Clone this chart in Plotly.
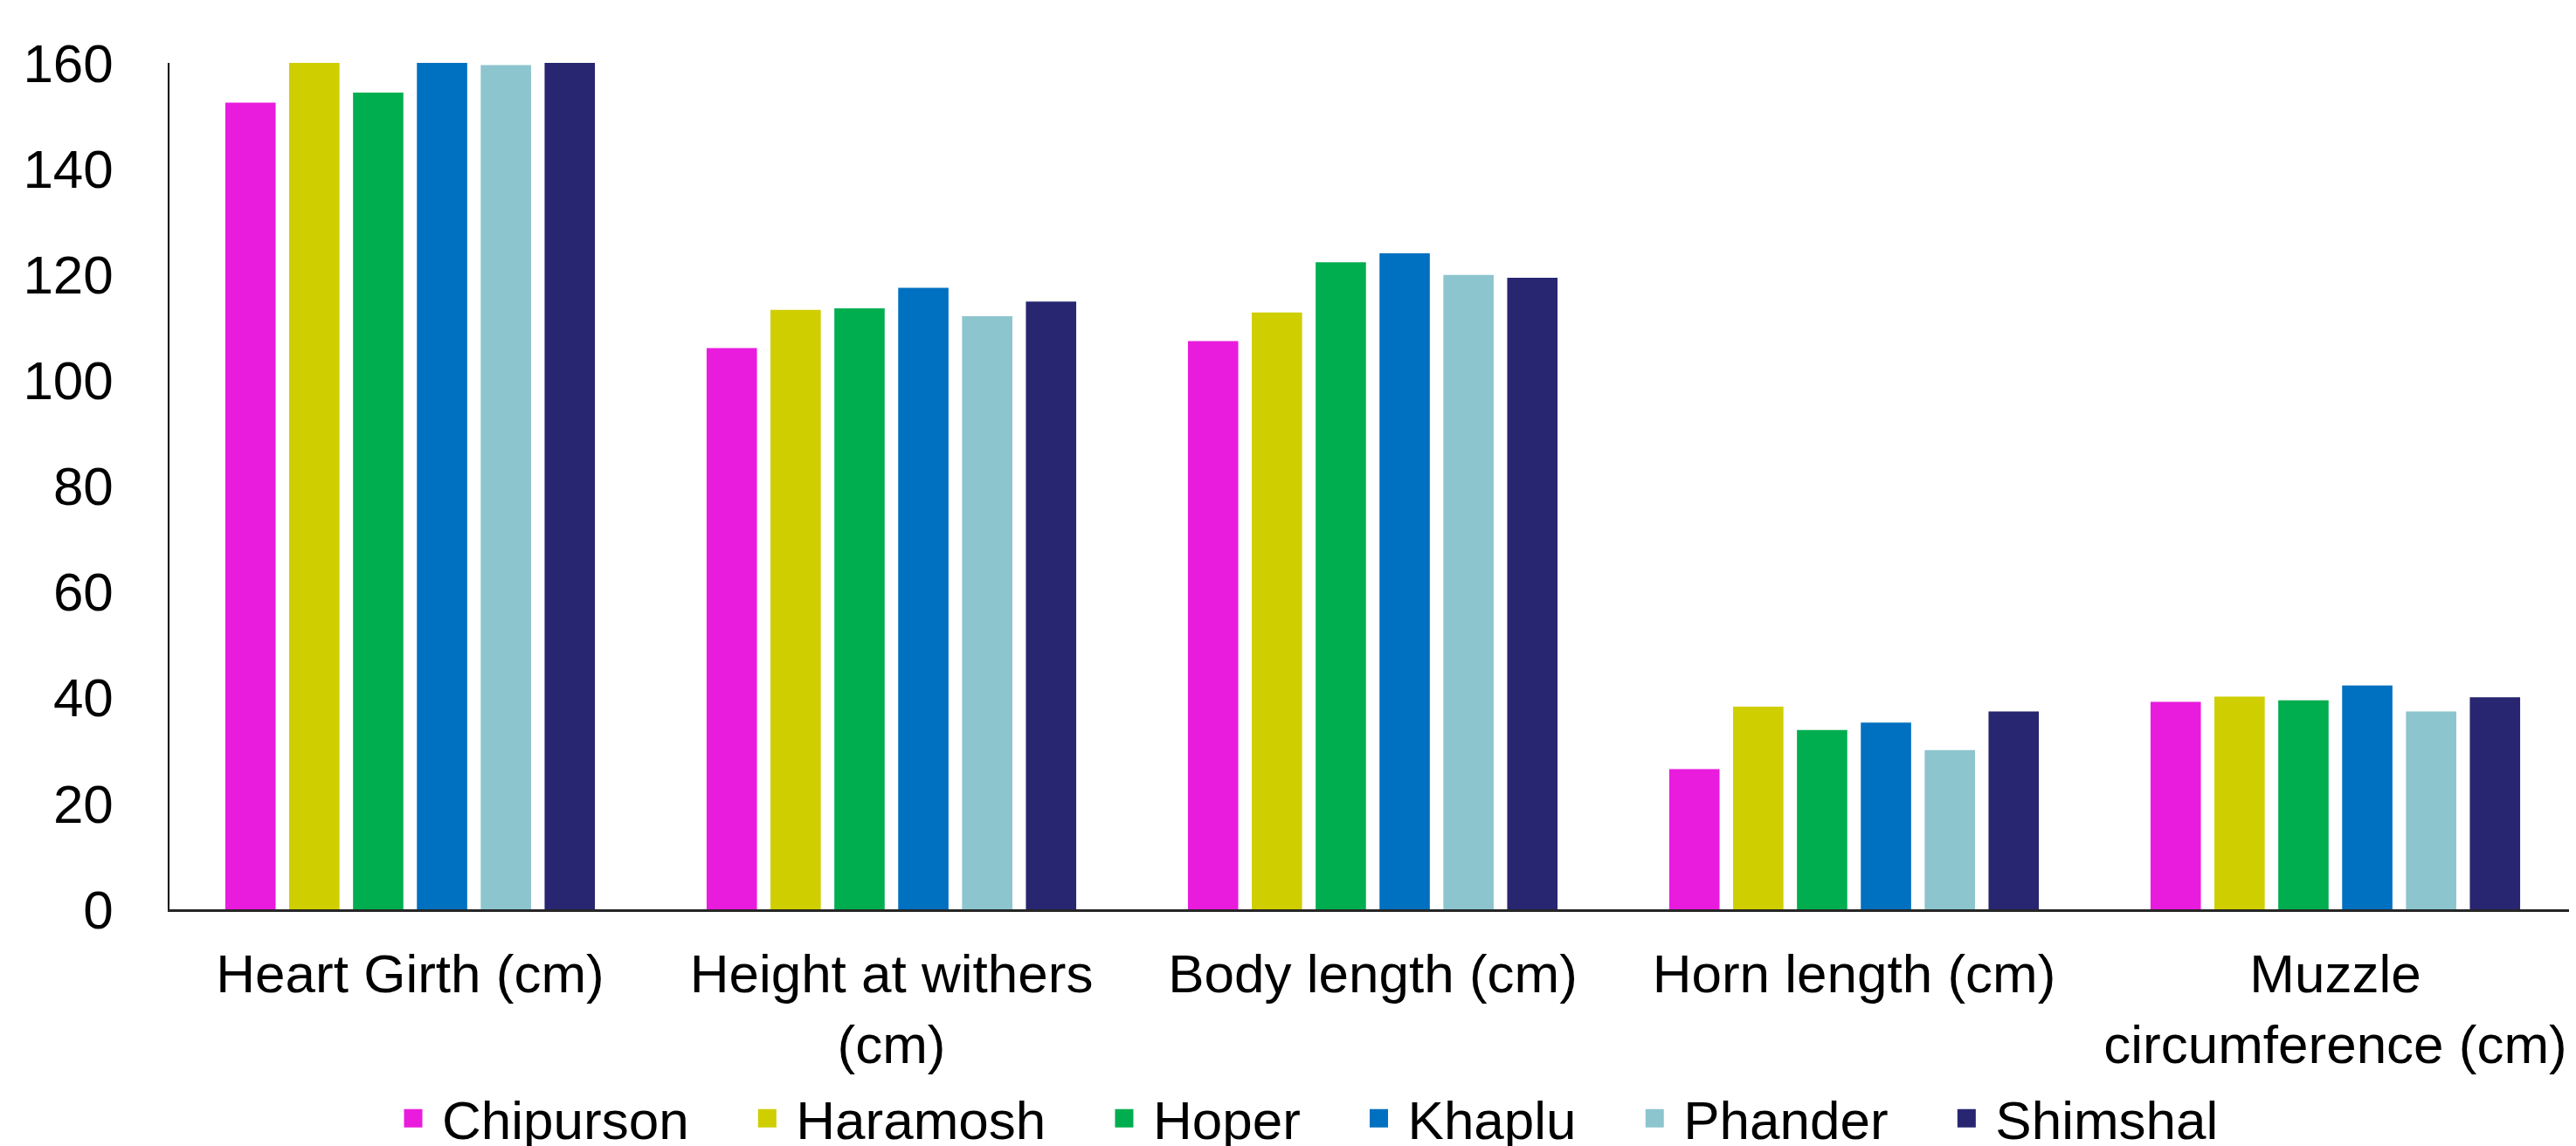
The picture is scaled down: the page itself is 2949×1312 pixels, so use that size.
import plotly.graph_objects as go

categories = ["Heart Girth (cm)", "Height at withers<br>(cm)", "Body length (cm)",
              "Horn length (cm)", "Muzzle<br>circumference (cm)"]
populations = ["Chipurson", "Haramosh", "Hoper", "Khaplu", "Phander", "Shimshal"]
chipurson = [152.5, 106.1, 107.4, 26.5, 39.2]
haramosh = [160.0, 113.3, 112.8, 38.3, 40.2]
hoper = [154.4, 113.6, 122.3, 33.9, 39.5]
khaplu = [160.0, 117.5, 124.0, 35.3, 42.3]
phander = [159.6, 112.1, 119.9, 30.1, 37.4]
shimshal = [160.0, 114.9, 119.4, 37.4, 40.1]
series = [chipurson, haramosh, hoper, khaplu, phander, shimshal]
colors = ["#E91CDE", "#CECE00", "#00AE4F", "#0070C0", "#8CC5CD", "#282671"]
y_ticks = [0, 20, 40, 60, 80, 100, 120, 140, 160]

FONT = "Liberation Sans, Arial, sans-serif"
PAD = "\u00a0" * 3

fig = go.Figure()
for name, vals, col in zip(populations, series, colors):
    fig.add_trace(go.Bar(x=categories, y=vals, name=name, marker_color=col,
                         marker_line_width=0, showlegend=False, legendgroup=name))
for name, col in zip(populations, colors):
    fig.add_trace(go.Scatter(x=[None], y=[None], mode="markers", name=name + PAD,
                             legendgroup=name,
                             marker=dict(symbol="square", size=16, color=col,
                                         line=dict(width=5, color=col))))

fig.update_layout(
    width=2941, height=1304,
    margin=dict(l=186, r=0, t=64, b=271, autoexpand=False),
    paper_bgcolor="white", plot_bgcolor="white",
    barmode="group", bargap=0.204, bargroupgap=0.212,
    font=dict(family=FONT, size=62, color="black"),
    legend=dict(orientation="h", x=0.0893, xanchor="left", y=-0.247, yanchor="middle",
                font=dict(family=FONT, size=62, color="black"),
                itemsizing="trace", itemwidth=56, bgcolor="rgba(0,0,0,0)"),
    xaxis=dict(showline=True, linecolor="#262626", linewidth=2.5, ticks="",
               showgrid=False, zeroline=False, automargin=False,
               tickfont=dict(family=FONT, size=62, color="black"),
               ticklabelstandoff=18),
    yaxis=dict(range=[0, 160], tickvals=y_ticks, showline=True, linecolor="black",
               linewidth=1.5, ticks="", showgrid=False, zeroline=False,
               automargin=False, tickfont=dict(family=FONT, size=62, color="black"),
               ticklabelstandoff=50),
)
fig.write_html("out.html")
